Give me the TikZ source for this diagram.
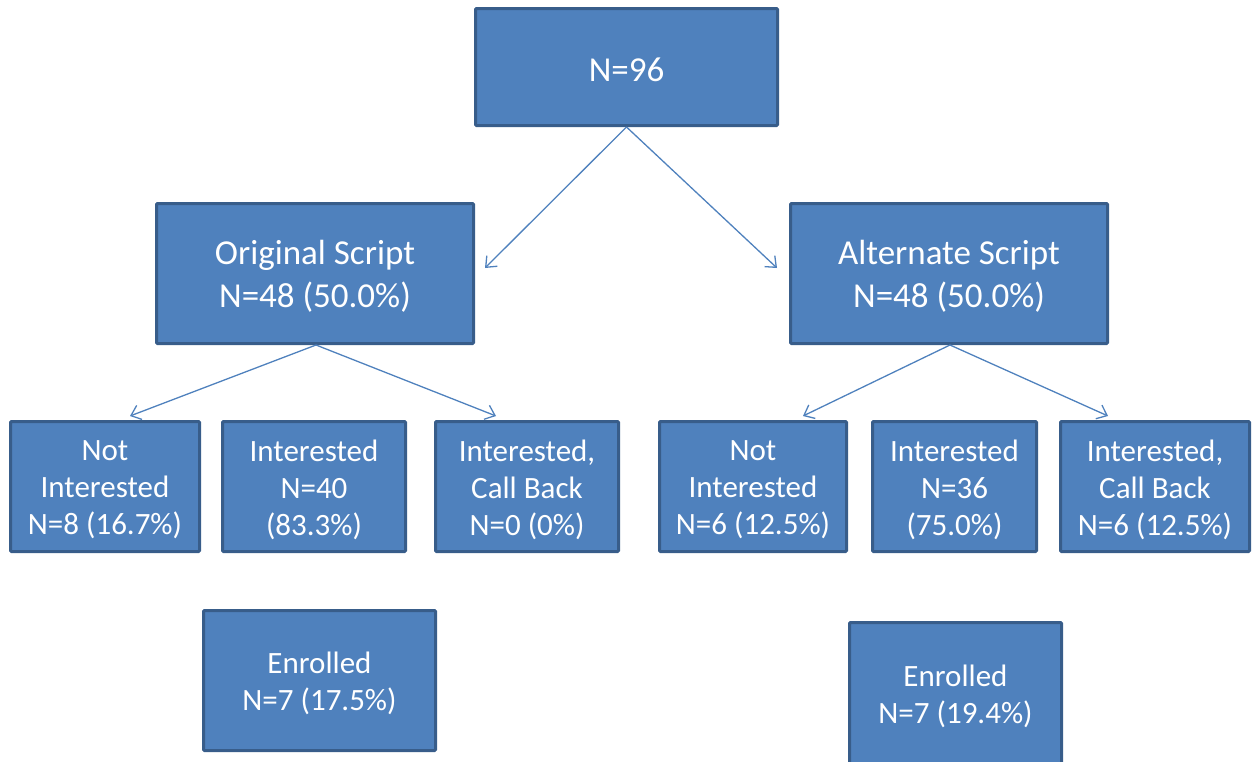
\documentclass[tikz,border=0pt]{standalone}
\usepackage{fontspec}
\setmainfont{Carlito}
\usetikzlibrary{arrows.meta}
\definecolor{boxfill}{HTML}{4F81BD}
\definecolor{boxline}{HTML}{385D8A}
\tikzset{
  box/.style={draw=boxline, fill=boxfill, line width=3pt, rounded corners=1pt,
    inner sep=0pt},
  boxtext/.style={text=white, align=center, inner sep=0pt, yshift=-3pt,
    font=\fontsize{31}{37}\selectfont},
  bigtext/.style={boxtext, font=\fontsize{35}{43}\selectfont},
  link/.style={draw=boxfill, line width=1.3pt,
    -{Straight Barb[length=9pt,width=15pt,line width=1.3pt]}}
}
\begin{document}
\begin{tikzpicture}[x=1pt,y=-1pt]
\useasboundingbox (0,0) rectangle (1259,761);
\clip (0,0) rectangle (1259,761);
% top level
\node[box, minimum width=302pt, minimum height=117pt,
  label={[bigtext]center:N=96}] (all) at (626.5,67) {};
% scripts
\node[box, minimum width=317pt, minimum height=140pt,
  label={[bigtext]center:Original Script\\N=48 (50.0\%)}] (orig) at (315,273.5) {};
\node[box, minimum width=317pt, minimum height=140pt,
  label={[bigtext]center:Alternate Script\\N=48 (50.0\%)}] (alt) at (949,273.5) {};
% responses, original script
\node[box, minimum width=189pt, minimum height=130pt,
  label={[boxtext]center:Not\\Interested\\N=8 (16.7\%)}] (oni) at (105,486.5) {};
\node[box, minimum width=183pt, minimum height=130pt,
  label={[boxtext]center:Interested\\N=40\\(83.3\%)}] (oin) at (314,486.5) {};
\node[box, minimum width=183pt, minimum height=130pt,
  label={[boxtext]center:Interested,\\Call Back\\N=0 (0\%)}] (ocb) at (527,486.5) {};
% responses, alternate script
\node[box, minimum width=187pt, minimum height=130pt,
  label={[boxtext]center:Not\\Interested\\N=6 (12.5\%)}] (ani) at (753,486.5) {};
\node[box, minimum width=164pt, minimum height=130pt,
  label={[boxtext]center:Interested\\N=36\\(75.0\%)}] (ain) at (954.5,486.5) {};
\node[box, minimum width=189pt, minimum height=130pt,
  label={[boxtext]center:Interested,\\Call Back\\N=6 (12.5\%)}] (acb) at (1155,486.5) {};
% enrolled
\node[box, minimum width=232pt, minimum height=140pt,
  label={[boxtext]center:Enrolled\\N=7 (17.5\%)}] (oen) at (319.5,680.5) {};
\node[box, minimum width=212pt, minimum height=142pt,
  label={[boxtext]center:Enrolled\\N=7 (19.4\%)}] (aen) at (955.5,693.5) {};
% connectors
\coordinate (allb) at (626.5,127);
\coordinate (origb) at (316,345);
\coordinate (altb) at (950,345);
\draw[link] (allb) -- (485,268);
\draw[link] (allb) -- (777,268);
\draw[link] (origb) -- (130,416);
\draw[link] (origb) -- (496,416);
\draw[link] (altb) -- (803,416);
\draw[link] (altb) -- (1108,416);
\end{tikzpicture}
\end{document}
